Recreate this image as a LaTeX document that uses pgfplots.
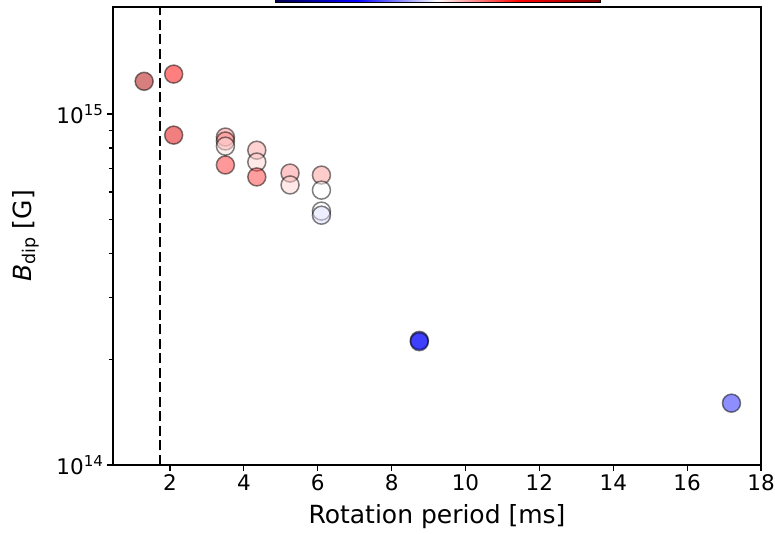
\documentclass[border=0pt]{standalone}
\usepackage{pgfplots}
\pgfplotsset{compat=1.18}
\usepackage{pgfplotstable}
\usepackage{fontspec}
\setmainfont{DejaVu Sans}
\pgfdeclarehorizontalshading{seismicbar}{100bp}{rgb(0bp)=(0,0,0.3); rgb(25bp)=(0,0,0.3); rgb(37.5bp)=(0,0,1); rgb(50bp)=(1,1,1); rgb(62.5bp)=(1,0,0); rgb(75bp)=(0.5,0,0); rgb(100bp)=(0.5,0,0)}
\pgfplotstableread{
x y c
1.30 1.24e15 0.905
2.10 1.30e15 0.75
2.10 0.871e15 0.80
3.50 0.860e15 0.61
3.50 0.838e15 0.62
3.50 0.810e15 0.53
3.50 0.716e15 0.70
4.35 0.789e15 0.59
4.35 0.730e15 0.545
4.35 0.662e15 0.69
5.25 0.679e15 0.61
5.25 0.628e15 0.545
6.10 0.670e15 0.60
6.10 0.607e15 0.50
6.10 0.529e15 0.50
6.10 0.515e15 0.467
8.75 0.2265e15 0.25
8.75 0.2245e15 0.25
17.2 1.50e14 0.28
}\pts
\begin{document}
\begin{tikzpicture}
\useasboundingbox (-113pt,-69pt) rectangle (662pt,465pt);
\begin{axis}[
  at={(0,0)}, anchor=south west,
  scale only axis, width=648pt, height=458pt,
  xmin=0.457, xmax=18,
  ymode=log, ymin=1e14, ymax=2.02e15,
  xtick={2,4,...,18},
  ytick={1e14,1e15},
  yticklabels={10\textsuperscript{14},10\textsuperscript{15}},
  tick align=outside, tick pos=left,
  major tick length=6pt, minor tick length=4pt,
  every tick/.style={black, line width=1.2pt},
  axis line style={black, line width=1.3pt},
  /pgf/number format/assume math mode=true,
  tick label style={font=\fontsize{21.5}{24}\selectfont},
  label style={font=\fontsize{25}{30}\selectfont},
  xlabel={Rotation period [ms]},
  xlabel style={at={(axis description cs:0.5,-0.079)}, anchor=north},
  ylabel={{\itshape B}\textsubscript{dip} [G]},
  ylabel style={at={(axis description cs:-0.108,0.5)}, anchor=south},
  colormap={seismic}{rgb=(0,0,0.3) rgb=(0,0,1) rgb=(1,1,1) rgb=(1,0,0) rgb=(0.5,0,0)},
  point meta min=0, point meta max=1,
  clip=false,
]
\addplot[black, line width=2.7pt, dash pattern=on 10pt off 4.5pt] coordinates {(1.73,1e14) (1.73,2.02e15)};
\addplot[scatter, only marks, mark=*, scatter src=explicit, mark size=9pt,
  scatter/use mapped color={draw=black, fill=mapped color},
  mark options={fill opacity=0.5, draw opacity=0.5, line width=1.5pt}]
  table[x=x, y=y, meta=c] {\pts};
\end{axis}
\shade[shading=seismicbar] (162pt,462pt) rectangle (487pt,490pt);
\draw[black, line width=1pt] (162pt,462pt) rectangle (487pt,490pt);
\end{tikzpicture}
\end{document}
